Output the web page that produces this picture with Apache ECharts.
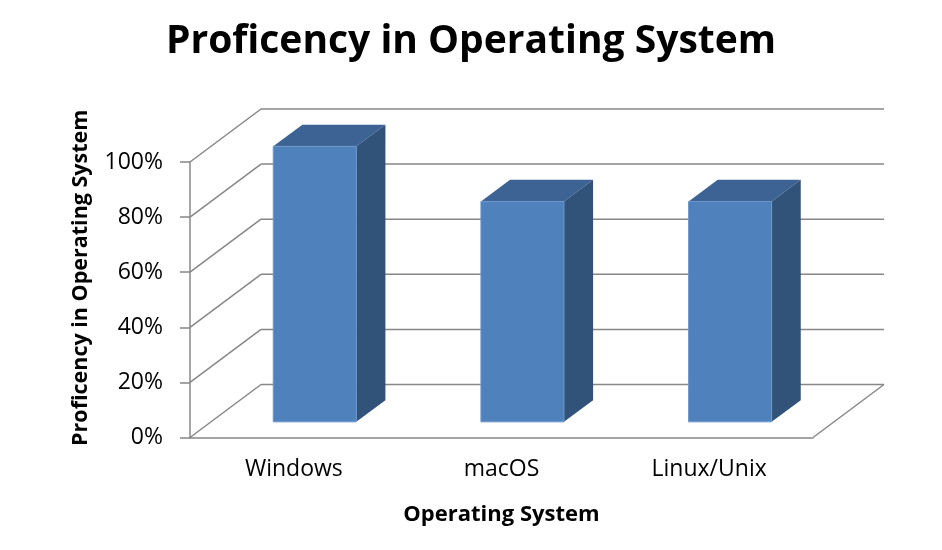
<!DOCTYPE html>
<html>
<head>
<meta charset="utf-8">
<script src="https://cdn.jsdelivr.net/npm/echarts@6/dist/echarts.min.js"></script>
<style>
html,body{margin:0;padding:0;background:#fff;}
#chart{width:942px;height:550px;}
</style>
</head>
<body>
<div id="chart"></div>
<script>
// ---- data ----
var categories = ['Windows', 'macOS', 'Linux/Unix'];
var proficiency = [100, 80, 80];
var yTicks = [0, 20, 40, 60, 80, 100];

var chartTitle = 'Proficency in Operating System';
var xTitle = 'Operating System';
var yTitle = 'Proficency in Operating System';

// ---- style constants ----
var FONT = '"Open Sans"';
var GRID_COLOR = '#878787';
var DEPTH_X = 71, DEPTH_Y = -53;      // pixel depth of the 3D box
var BAR_FRONT = 0.295, BAR_DEPTH = 0.41, BAR_W = 0.4;
var C_FRONT = '#4F81BD', C_TOP = '#3C6394', C_SIDE = '#325379';

var chart = echarts.init(document.getElementById('chart'), null, {renderer: 'canvas'});

var option = {
  animation: false,
  backgroundColor: '#ffffff',
  title: {
    text: chartTitle,
    left: 'center',
    top: 17,
    textStyle: {fontFamily: FONT, fontWeight: 'bold', fontSize: 39, color: '#000'}
  },
  grid: {left: 190, right: 129, top: 162, bottom: 112.5, containLabel: false},
  xAxis: {
    type: 'category',
    data: categories,
    name: xTitle,
    nameLocation: 'middle',
    nameGap: 66,
    nameTextStyle: {fontFamily: FONT, fontWeight: 'bold', fontSize: 22, color: '#000'},
    axisLine: {show: true, lineStyle: {color: GRID_COLOR, width: 1.5}},
    axisTick: {show: false},
    axisLabel: {fontFamily: FONT, fontSize: 23, color: '#000', margin: 20},
    splitLine: {show: false}
  },
  yAxis: {
    type: 'value',
    min: 0, max: 100, interval: 20,
    name: yTitle,
    nameLocation: 'middle',
    nameGap: 98,
    nameTextStyle: {fontFamily: FONT, fontWeight: 'bold', fontSize: 21.5, color: '#000', padding: [0, 0, 0, 44]},
    axisLine: {show: true, lineStyle: {color: GRID_COLOR, width: 1.5}},
    axisTick: {show: true, length: 10, lineStyle: {color: GRID_COLOR, width: 1.5}},
    axisLabel: {fontFamily: FONT, fontSize: 23, color: '#000', margin: 27, formatter: '{value}%'},
    splitLine: {show: false}
  },
  series: [
    {
      type: 'custom',
      name: 'walls',
      silent: true,
      data: yTicks.map(function (v) { return [0, v]; }),
      renderItem: function (params, api) {
        var cs = params.coordSys;
        var v = api.value(1);
        var y = api.coord([0, v])[1];
        var x0 = cs.x, x1 = cs.x + cs.width;
        var style = {stroke: GRID_COLOR, lineWidth: 1.5, fill: null};
        var children = [
          {type: 'line', shape: {x1: x0, y1: y, x2: x0 + DEPTH_X, y2: y + DEPTH_Y}, style: style},
          {type: 'line', shape: {x1: x0 + DEPTH_X, y1: y + DEPTH_Y, x2: x1 + DEPTH_X, y2: y + DEPTH_Y}, style: style}
        ];
        if (v === 0) {
          children.push({type: 'line', shape: {x1: x1, y1: y, x2: x1 + DEPTH_X, y2: y + DEPTH_Y}, style: style});
        }
        return {type: 'group', children: children};
      },
      z: 1
    },
    {
      type: 'custom',
      name: 'Proficiency',
      data: proficiency.map(function (v, i) { return [i, v]; }),
      renderItem: function (params, api) {
        var i = api.value(0), v = api.value(1);
        var base = api.coord([i, 0]);
        var top = api.coord([i, v]);
        var band = api.size([1, 0])[0];
        var w = band * BAR_W;
        var fx = BAR_FRONT * DEPTH_X, fy = BAR_FRONT * DEPTH_Y;
        var bx = BAR_DEPTH * DEPTH_X, by = BAR_DEPTH * DEPTH_Y;
        var L = base[0] - w / 2 + fx, R = base[0] + w / 2 + fx;
        var T = top[1] + fy, B = base[1] + fy;
        return {
          type: 'group',
          children: [
            {type: 'polygon', shape: {points: [[L, T], [R, T], [R + bx, T + by], [L + bx, T + by]]},
              style: {fill: C_TOP}},
            {type: 'polygon', shape: {points: [[R, T], [R + bx, T + by], [R + bx, B + by], [R, B]]},
              style: {fill: C_SIDE}},
            {type: 'rect', shape: {x: L, y: T, width: R - L, height: B - T},
              style: {fill: C_FRONT, stroke: '#6f96c8', lineWidth: 1}}
          ]
        };
      },
      z: 2
    }
  ]
};
chart.setOption(option);
</script>
</body>
</html>
